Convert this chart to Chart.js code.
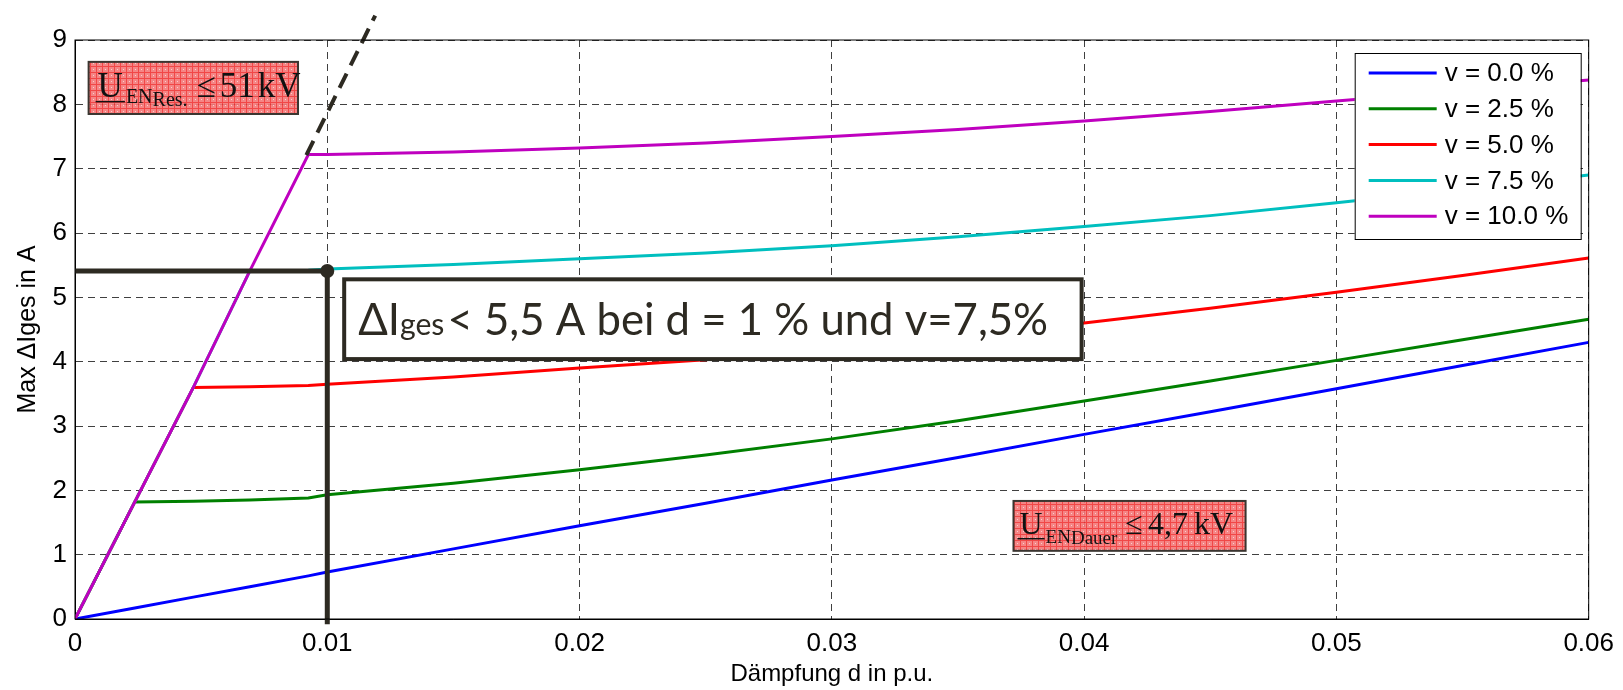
<!DOCTYPE html>
<html lang="de">
<head>
<meta charset="UTF-8">
<title>Max ΔIges über Dämpfung</title>
<script src="https://cdn.jsdelivr.net/npm/chart.js"></script>
<style>
  html, body { margin: 0; padding: 0; background: #fff; }
  canvas { display: block; }
</style>
</head>
<body>
<canvas id="dampChart" width="1623" height="690"></canvas>
<script>
// Dämpfung d in p.u. (gemeinsame Stützstellen für alle Kurven)
const daempfung = [0, 0.00237, 0.00469, 0.00693, 0.00925, 0.01, 0.015, 0.02, 0.025, 0.03, 0.035, 0.04, 0.045, 0.05, 0.055, 0.06]

// Max ΔIges in A je Verstimmung v
const v00 = [0, 0.17, 0.34, 0.50, 0.67, 0.73, 1.09, 1.45, 1.80, 2.16, 2.51, 2.87, 3.22, 3.58, 3.94, 4.30]
const v25 = [0, 1.82, 1.83, 1.85, 1.88, 1.93, 2.11, 2.32, 2.55, 2.80, 3.08, 3.39, 3.70, 4.02, 4.34, 4.66]
const v50 = [0, 1.82, 3.60, 3.61, 3.63, 3.65, 3.76, 3.90, 4.03, 4.19, 4.38, 4.60, 4.83, 5.08, 5.34, 5.61]
const v75 = [0, 1.82, 3.60, 5.41, 5.42, 5.44, 5.51, 5.60, 5.69, 5.80, 5.94, 6.10, 6.27, 6.47, 6.68, 6.90]
const v100 = [0, 1.82, 3.60, 5.41, 7.22, 7.22, 7.26, 7.32, 7.40, 7.50, 7.61, 7.74, 7.89, 8.05, 8.21, 8.38]

const serien = [v00, v25, v50, v75, v100]
const serienNamen = ["v = 0.0 %", "v = 2.5 %", "v = 5.0 %", "v = 7.5 %", "v = 10.0 %"]
const serienFarben = ["#0000ff", "#008000", "#ff0000", "#00bfbf", "#bf00bf"]

// Achsenbeschriftungen
const xTicks = ["0", "0.01", "0.02", "0.03", "0.04", "0.05", "0.06"]
const yTicks = ["0", "1", "2", "3", "4", "5", "6", "7", "8", "9"]

// Resonanzgrenze (gestrichelt) und Ablesung bei d = 1 %
const grenzeX = [0.00917, 0.0119]
const grenzeY = [7.21, 9.38]
const ablesungX = [0, 0.01, 0.01]
const ablesungY = [5.41, 5.41, -0.08]

const dunkel = "#2d2a22"
const sans = '"Liberation Sans", Arial, sans-serif'
const serif = '"Liberation Serif", "Times New Roman", serif'

function punkte(xs, ys) {
  return xs.map((x, i) => ({ x: x, y: ys[i] }))
}

// rot karierte Füllung wie im Original
function rotMuster(ctx) {
  const c = document.createElement("canvas")
  c.width = 6
  c.height = 6
  const p = c.getContext("2d")
  p.fillStyle = "#f47878"
  p.fillRect(0, 0, 6, 6)
  p.fillStyle = "#f03434"
  p.fillRect(0, 0, 6, 1)
  p.fillRect(0, 0, 1, 6)
  p.fillStyle = "#fac8c8"
  p.fillRect(3, 3, 1, 1)
  return ctx.createPattern(c, "repeat")
}

function textFolge(ctx, x, y, teile) {
  teile.forEach((t) => {
    x += t.gap || 0
    ctx.font = t.size + "px " + (t.family || serif)
    ctx.fillText(t.text, x, y + (t.dy || 0))
    const w = ctx.measureText(t.text).width
    if (t.underline) ctx.fillRect(x - 2, y + 4, w + 4, 1.5)
    x += w
  })
}

function rotesFeld(ctx, sx, sy, x0, x1, y0, y1, teile, offX, offY) {
  const l = sx.getPixelForValue(x0), r = sx.getPixelForValue(x1)
  const t = sy.getPixelForValue(y0), b = sy.getPixelForValue(y1)
  ctx.save()
  ctx.globalAlpha = 0.9
  ctx.fillStyle = rotMuster(ctx)
  ctx.fillRect(l, t, r - l, b - t)
  ctx.globalAlpha = 1
  ctx.strokeStyle = "#3a3530"
  ctx.lineWidth = 2
  ctx.strokeRect(l, t, r - l, b - t)
  ctx.fillStyle = "#111"
  ctx.textBaseline = "alphabetic"
  textFolge(ctx, l + offX, t + offY, teile)
  ctx.restore()
}

const annotationen = {
  id: "annotationen",
  afterDatasetsDraw(chart) {
    const { ctx, chartArea: a, scales: { x: sx, y: sy } } = chart

    // Rahmen der Achsenfläche
    ctx.save()
    ctx.strokeStyle = "#000"
    ctx.lineWidth = 1
    ctx.strokeRect(a.left, a.top, a.right - a.left, a.bottom - a.top)
    ctx.restore()

    rotesFeld(ctx, sx, sy, 0.00054, 0.00884, 8.66, 7.85, [
      { text: "U", size: 35, underline: true },
      { text: "EN", size: 20, dy: 6, gap: 3 },
      { text: "Res.", size: 20, dy: 9 },
      { text: "\u2264", size: 35, gap: 9 },
      { text: "51", size: 35, gap: 4 },
      { text: "kV", size: 35, gap: 3 },
    ], 9, 35)

    rotesFeld(ctx, sx, sy, 0.0372, 0.0464, 1.835, 1.06, [
      { text: "U", size: 32, underline: true },
      { text: "EN", size: 19, dy: 9, gap: 3 },
      { text: "Dauer", size: 19, dy: 10 },
      { text: "\u2264", size: 32, gap: 8 },
      { text: "4,7", size: 32, gap: 5 },
      { text: "kV", size: 32, gap: 6 },
    ], 6, 33)

    // Textfeld mit Ablesung
    const l = sx.getPixelForValue(0.01067), r = sx.getPixelForValue(0.0399)
    const t = sy.getPixelForValue(5.28), b = sy.getPixelForValue(4.04)
    ctx.save()
    ctx.fillStyle = "#fff"
    ctx.fillRect(l, t, r - l, b - t)
    ctx.strokeStyle = dunkel
    ctx.lineWidth = 4
    ctx.strokeRect(l, t, r - l, b - t)
    const gross = 42, klein = 29
    const teile = [
      { text: "\u0394I", size: gross, family: "Lato, sans-serif" },
      { text: "ges", size: klein, family: "Lato, sans-serif" },
      { text: "< 5,5 A bei d = 1 % und v=7,5%", size: gross, family: "Lato, sans-serif", gap: 3 },
    ]
    let breite = 0
    teile.forEach((p) => {
      ctx.font = p.size + "px " + p.family
      breite += ctx.measureText(p.text).width + (p.gap || 0)
    })
    const f = 690 / breite
    teile.forEach((p) => { p.size = p.size * f; p.gap = (p.gap || 0) * f })
    ctx.fillStyle = dunkel
    ctx.textBaseline = "alphabetic"
    textFolge(ctx, l + 14, t + 56, teile)
    ctx.restore()

    // Legende
    const lw = 226, lh = 186
    const ll = a.right - 8 - lw, lt = a.top + 13
    ctx.save()
    ctx.fillStyle = "#fff"
    ctx.fillRect(ll, lt, lw, lh)
    ctx.strokeStyle = "#000"
    ctx.lineWidth = 1
    ctx.strokeRect(ll + 0.5, lt + 0.5, lw, lh)
    ctx.font = "26px " + sans
    ctx.textBaseline = "middle"
    serienNamen.forEach((name, i) => {
      const y = lt + 20 + i * 35.8
      ctx.strokeStyle = serienFarben[i]
      ctx.lineWidth = 3
      ctx.beginPath()
      ctx.moveTo(ll + 14, y)
      ctx.lineTo(ll + 82, y)
      ctx.stroke()
      ctx.fillStyle = "#000"
      ctx.fillText(name, ll + 90, y + 1)
    })
    ctx.restore()
  },
}

const datensaetze = serien.map((werte, i) => ({
  label: serienNamen[i],
  data: punkte(daempfung, werte),
  borderColor: serienFarben[i],
  backgroundColor: serienFarben[i],
  borderWidth: 3,
  pointRadius: 0,
  showLine: true,
  tension: 0,
  order: 6 - i,
}))

datensaetze.push({
  label: "Grenze",
  data: punkte(grenzeX, grenzeY),
  borderColor: dunkel,
  borderWidth: 4,
  borderDash: [16, 9],
  pointRadius: 0,
  showLine: true,
  clip: false,
  order: 0,
})

datensaetze.push({
  label: "Ablesung",
  data: punkte(ablesungX, ablesungY),
  borderColor: dunkel,
  backgroundColor: dunkel,
  borderWidth: 5,
  pointRadius: (c) => (c.dataIndex === 1 ? 7 : 0),
  pointBorderWidth: 0,
  showLine: true,
  clip: false,
  order: 0,
})

new Chart(document.getElementById("dampChart"), {
  type: "scatter",
  data: { datasets: datensaetze },
  plugins: [annotationen],
  options: {
    responsive: false,
    animation: false,
    layout: { padding: { top: 40, right: 34, left: 0, bottom: 0 } },
    plugins: { legend: { display: false }, tooltip: { enabled: false } },
    scales: {
      x: {
        type: "linear",
        min: 0,
        max: 0.06,
        afterFit: (s) => { s.height = 71 },
        ticks: {
          stepSize: 0.01,
          color: "#000",
          font: { family: sans, size: 26 },
          padding: 9,
          maxRotation: 0,
          callback: (v, i) => xTicks[i],
        },
        grid: { color: "rgba(0,0,0,0.75)", lineWidth: 1, drawTicks: false },
        border: { display: true, color: "#000", width: 1, dash: [7, 5] },
        title: {
          display: true,
          text: "Dämpfung d in p.u.",
          color: "#000",
          font: { family: sans, size: 24 },
          padding: { top: 0, bottom: 1 },
        },
      },
      y: {
        type: "linear",
        min: 0,
        max: 9,
        afterFit: (s) => { s.width = 75 },
        ticks: {
          stepSize: 1,
          color: "#000",
          font: { family: sans, size: 26 },
          padding: 8,
          callback: (v, i) => yTicks[i],
        },
        grid: { color: "rgba(0,0,0,0.75)", lineWidth: 1, drawTicks: false },
        border: { display: true, color: "#000", width: 1, dash: [7, 5] },
        title: {
          display: true,
          text: "Max \u0394Iges in A",
          color: "#000",
          font: { family: sans, size: 25 },
          padding: { top: 13, bottom: 0 },
        },
      },
    },
  },
})
</script>
</body>
</html>
